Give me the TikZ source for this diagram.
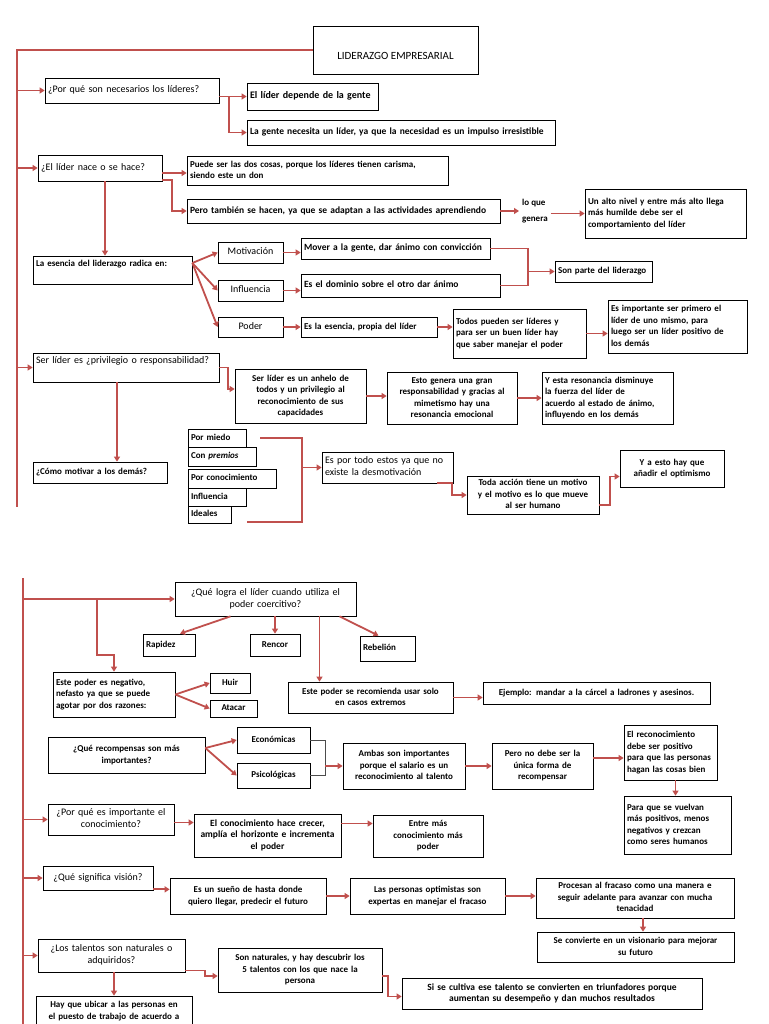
\documentclass[tikz,border=0pt]{standalone}
\usepackage{fontspec}
\setmainfont{Carlito}
\usetikzlibrary{arrows.meta}
\definecolor{cred}{HTML}{C0504D}
\newcommand\bx[8][]{\pgfmathsetmacro\tw{#5-6}\node[bx,#1,al-#7,minimum width=#5pt,minimum height=#6pt,text width=\tw pt] (#2) at ({#3+#5/2},{#4+#6/2}) {\begin{tabular}{@{}#7@{}}#8\end{tabular}};}
\begin{document}
\begin{tikzpicture}[x=1pt,y=-1pt,
  bx/.style={draw=black,line width=0.7pt,inner xsep=3pt,inner ysep=1pt,fill=white,font=\fontsize{9}{11.5}\selectfont\bfseries},
  qf/.style={font=\fontsize{10}{12}\selectfont},
  bigf/.style={font=\fontsize{10}{12}\selectfont\bfseries},
  midf/.style={font=\fontsize{9.5}{11.5}\selectfont\bfseries},
  al-l/.style={align=left},
  al-c/.style={align=center},
  txt/.style={inner sep=3pt,font=\fontsize{9}{16}\selectfont\bfseries},
  arr/.style={draw=cred,line width=1.8pt,-{Triangle[length=5pt,width=6pt]}},
  ln/.style={draw=cred,line width=1.8pt},
  brk/.style={draw=black!70,line width=0.6pt}]
\useasboundingbox (0,0) rectangle (768,1024);
\clip (0,0) rectangle (768,1024);
% ---------------- page 1 ----------------
\node[bx,minimum width=165pt,minimum height=48pt] (n0) at (395.5,50) {};
\node[font=\fontsize{11}{13}\selectfont] (n0t) at (395.5,56) {LIDERAZGO EMPRESARIAL};
\coordinate (T1b) at (17,507);
\bx[qf]{q1}{45}{78}{174}{25}{l}{¿Por qué son necesarios los líderes?}
\bx[bigf]{a1}{247}{83}{131}{27}{l}{El líder depende de la gente}
\bx[midf]{a2}{247}{120}{308}{25}{l}{La gente necesita un líder, ya que la necesidad es un impulso irresistible}
\bx[qf]{q2}{38}{155}{124}{26}{l}{¿El líder nace o se hace?}
\bx{b1}{187}{156}{261}{29}{l}{Puede ser las dos cosas, porque los líderes tienen carisma,\\ siendo este un don}
\bx[midf]{b2}{187}{199}{313}{24}{l}{Pero también se hacen, ya que se adaptan a las actividades aprendiendo}
\node[txt,anchor=west,align=left] (lq) at (519,211) {lo que\\genera};
\bx{b3}{585}{189}{161}{49}{l}{Un alto nivel y entre más alto llega\\ más humilde debe ser el\\ comportamiento del líder}
\bx{q3}{33}{256}{159}{28}{l}{La esencia del liderazgo radica en:\\ \mbox{}}
\bx[qf]{m1}{218}{242}{65}{21}{c}{Motivación}
\bx[qf]{m2}{218}{280}{65}{21}{c}{Influencia}
\bx[qf]{m3}{218}{317}{65}{20}{c}{Poder}
\bx[midf]{c1}{301}{238}{189}{21}{l}{Mover a la gente, dar ánimo con convicción}
\bx[midf]{c2}{301}{274}{199}{23}{l}{Es el dominio sobre el otro dar ánimo}
\bx{c3}{301}{317}{136}{20}{l}{Es la esencia, propia del líder}
\bx{s1}{555}{261}{97}{21}{l}{Son parte del liderazgo}
\bx{d1}{453}{309}{133}{49}{l}{Todos pueden ser líderes y\\ para ser un buen líder hay\\ que saber manejar el poder}
\bx{d2}{608}{300}{139}{53}{l}{Es importante ser primero el\\ líder de uno mismo, para\\ luego ser un líder positivo de\\ los demás}
\bx[qf]{q4}{33}{353}{186}{29}{l}{Ser líder es ¿privilegio o responsabilidad?\\ \mbox{}}
\bx{e1}{235}{369}{131}{54}{c}{Ser líder es un anhelo de\\ todos y un privilegio al\\ reconocimiento de sus\\ capacidades}
\bx{e2}{387}{372}{130}{52}{c}{Esto genera una gran\\ responsabilidad y gracias al\\ mimetismo hay una\\ resonancia emocional}
\bx{e3}{542}{372}{131}{52}{l}{Y esta resonancia disminuye\\ la fuerza del líder de\\ acuerdo al estado de ánimo,\\ influyendo en los demás}
\bx{q5}{33}{462}{134}{21}{l}{¿Cómo motivar a los demás?}
\bx{l1}{188}{429}{58}{18}{l}{Por miedo}
\bx{l2}{188}{447}{68}{19}{l}{Con \textit{premios}}
\bx{l3}{188}{469}{88}{19}{l}{Por conocimiento}
\bx{l4}{188}{488}{58}{18}{l}{Influencia}
\bx{l5}{188}{506}{43}{17}{l}{Ideales}
\bx[qf]{f1}{322}{452}{131}{31}{l}{Es por todo estos ya que no\\ existe la desmotivación}
\bx{f2}{467}{476}{132}{38}{c}{Toda acción tiene un motivo\\ y el motivo es lo que mueve\\ al ser humano}
\bx{f3}{620}{450}{104}{37}{c}{Y a esto hay que\\ añadir el optimismo}
% connectors page 1
\draw[ln] (n0.west) -| (T1b);
\draw[arr] (T1b |- q1.west) -- (q1.west);
\draw[arr] (T1b |- q2.west) -- (q2.west);
\draw[arr] (T1b |- q4.west) -- (q4.west);
\draw[arr] (q1.east |- a1.west) -- (a1.west);
\draw[arr] (q1.east |- a1.west) -- ++(10,0) |- (a2.west);
\draw[arr] ([yshift=-5pt]q2.east) -- ([yshift=-5pt]q2.east -| b1.west);
\draw[arr] ([yshift=-12pt]q2.east) -- ++(10,0) |- (b2.west);
\draw[arr] (b2.east) -- (lq.west |- b2.east);
\draw[arr] (lq.east |- b3.west) -- (b3.west);
\draw[arr] ([xshift=5pt]q2.south) -- ([xshift=5pt]q2.south |- q3.north);
\draw[arr] ([yshift=7pt]q3.east) -- (m1.west);
\draw[arr] ([yshift=7pt]q3.east) -- (m2.west);
\draw[arr] ([yshift=7pt]q3.east) -- (m3.west);
\draw[arr] (m1.east) -- (m1.east -| c1.west);
\draw[arr] (m2.east) -- (m2.east -| c2.west);
\draw[arr] (m3.east) -- (m3.east -| c3.west);
\coordinate (J1) at (528,271.5);
\draw[ln] (c1.east) -| (J1);
\draw[ln] (c2.east) -| (J1);
\draw[arr] (J1) -- (J1 -| s1.west);
\draw[arr] (c3.east) -- (c3.east -| d1.west);
\draw[arr] (d1.east) -- (d1.east -| d2.west);
\draw[arr] (q4.east) -- ++(9,0) |- ([yshift=7pt]e1.west);
\draw[arr] (e1.east) -- (e1.east -| e2.west);
\draw[arr] (e2.east) -- (e2.east -| e3.west);
\draw[arr] ([xshift=-9pt]q4.south) -- ([xshift=-9pt]q4.south |- q5.north);
\coordinate (K1) at (260,438);
\coordinate (K2) at (302,438);
\coordinate (K3) at (302,522);
\coordinate (K4) at (247,522);
\draw[ln] (K1) -- (K2) -- (K3) -- (K4);
\draw[arr] (K2 |- f1.west) -- (f1.west);
\draw[arr] ([xshift=-16pt]f1.south east) -- ++(15,0) |- (f2.west);
\draw[arr] ([yshift=-10pt]f2.east) -- ++(11,0) |- ([yshift=-8pt]f3.west);
% ---------------- page 2 ----------------
\coordinate (T2a) at (23,578);
\coordinate (T2b) at (23,1030);
\draw[ln] (T2a) -- (T2b);
\bx[qf]{g0}{175}{582}{181}{34}{c}{¿Qué logra el líder cuando utiliza el\\ poder coercitivo?}
\bx{r1}{143}{634}{52}{22}{l}{Rapidez}
\bx{r2}{250}{634}{50}{22}{c}{Rencor}
\bx{r3}{360}{636}{55}{25}{l}{Rebelión}
\bx{h1}{53}{672}{122}{45}{l}{Este poder es negativo,\\ nefasto ya que se puede\\ agotar por dos razones:}
\bx{h2}{210}{673}{40}{20}{c}{Huir}
\bx{h3}{210}{700}{47}{17}{c}{Atacar}
\bx{i1}{288}{682}{165}{31}{c}{Este poder se recomienda usar solo\\ en casos extremos}
\bx{i2}{483}{682}{227}{22}{c}{Ejemplo: mandar a la cárcel a ladrones y asesinos.}
\bx{j0}{48}{737}{157}{36}{c}{¿Qué recompensas son más\\ importantes?}
\bx{j1}{237}{727}{73}{26}{c}{Económicas}
\bx{j2}{237}{763}{73}{25}{c}{Psicológicas}
\bx{j3}{343}{743}{122}{46}{c}{Ambas son importantes\\ porque el salario es un\\ reconocimiento al talento}
\bx{j4}{492}{743}{101}{46}{c}{Pero no debe ser la\\ única forma de\\ recompensar}
\bx{j5}{624}{725}{93}{55}{l}{El reconocimiento\\ debe ser positivo\\ para que las personas\\ hagan las cosas bien}
\bx{j6}{624}{796}{107}{58}{l}{Para que se vuelvan\\ más positivos, menos\\ negativos y crezcan\\ como seres humanos}
\bx[qf]{k0}{48}{804}{126}{31}{c}{¿Por qué es importante el\\ conocimiento?}
\bx[midf]{k1}{194}{814}{147}{43}{c}{El conocimiento hace crecer,\\ amplía el horizonte e incrementa\\ el poder}
\bx{k2}{373}{815}{110}{42}{c}{Entre más\\ conocimiento más\\ poder}
\bx[qf]{v0}{43}{866}{110}{24}{c}{¿Qué significa visión?}
\bx{v1}{170}{878}{156}{36}{c}{Es un sueño de hasta donde\\ quiero llegar, predecir el futuro}
\bx{v2}{350}{878}{155}{36}{c}{Las personas optimistas son\\ expertas en manejar el fracaso}
\bx{v3}{536}{878}{198}{40}{c}{Procesan al fracaso como una manera e\\ seguir adelante para avanzar con mucha\\ tenacidad}
\bx{v4}{537}{932}{197}{30}{c}{Se convierte en un visionario para mejorar\\ su futuro}
\bx[qf]{t0}{38}{939}{147}{33}{c}{¿Los talentos son naturales o\\ adquiridos?}
\bx{t1}{218}{948}{164}{44}{c}{Son naturales, y hay descubrir los\\ 5 talentos con los que nace la\\ persona}
\bx[midf]{t2}{402}{978}{300}{31}{c}{Si se cultiva ese talento se convierten en triunfadores porque\\ aumentan su desempeño y dan muchos resultados}
\bx{t3}{36}{996}{156}{30}{c}{Hay que ubicar a las personas en\\ el puesto de trabajo de acuerdo a}
% connectors page 2
\draw[arr] (T2a |- g0.west) -- (g0.west);
\coordinate (B1) at (97,599);
\coordinate (B2) at (97,655);
\draw[arr] (B1) -- (B2) -| (h1.north);
\draw[arr] ([xshift=-35pt]g0.south) -- ([xshift=11pt]r1.north);
\draw[arr] (r2.north |- g0.south) -- (r2.north);
\draw[arr] ([xshift=74pt]g0.south) -- ([xshift=-9pt]r3.north);
\draw[arr] ([xshift=54pt]g0.south) -- ([xshift=54pt]g0.south |- i1.north);
\draw[arr] (h1.east) -- (h2.west);
\draw[arr] (h1.east) -- (h3.west);
\draw[arr] (i1.east) -- (i1.east -| i2.west);
\draw[arr] ([yshift=7pt]j0.east) -- (j1.west);
\draw[arr] ([yshift=7pt]j0.east) -- (j2.west);
\coordinate (JB) at (325,766);
\draw[brk] (j1.east) -| (JB |- j2.east) -- (j2.east);
\draw[arr] (JB) -- (JB -| j3.west);
\draw[arr] (j3.east) -- (j3.east -| j4.west);
\draw[arr] ([yshift=8pt]j4.east) -- ([yshift=8pt]j4.east -| j5.west);
\draw[arr] ([xshift=5pt]j5.south) -- ([xshift=5pt]j5.south |- j6.north);
\draw[arr] (T2a |- k0.west) -- (k0.west);
\draw[arr] ([yshift=-3pt]k0.east) -- ([yshift=-3pt]k0.east -| k1.west);
\draw[arr] ([yshift=12pt]k1.east) -- ([yshift=12pt]k1.east -| k2.west);
\draw[arr] (T2a |- v0.west) -- (v0.west);
\draw[arr] ([yshift=1pt]v0.south east) -- ([yshift=1pt]v0.south east -| v1.west);
\draw[arr] (v1.east) -- (v1.east -| v2.west);
\draw[arr] (v2.east) -- (v2.east -| v3.west);
\draw[arr] ([xshift=8pt]v3.south) -- ([xshift=8pt]v3.south |- v4.north);
\draw[arr] (T2a |- t0.west) -- (t0.west);
\draw[arr] ([yshift=-15pt]t0.east) -- ++(20,0) |- ([yshift=-6pt]t1.west);
\draw[arr] ([yshift=-6pt]t1.east) -- ++(6,0) |- ([yshift=-3pt]t2.west);
\draw[arr] (t3.north |- t0.south) -- (t3.north);
\end{tikzpicture}
\end{document}
